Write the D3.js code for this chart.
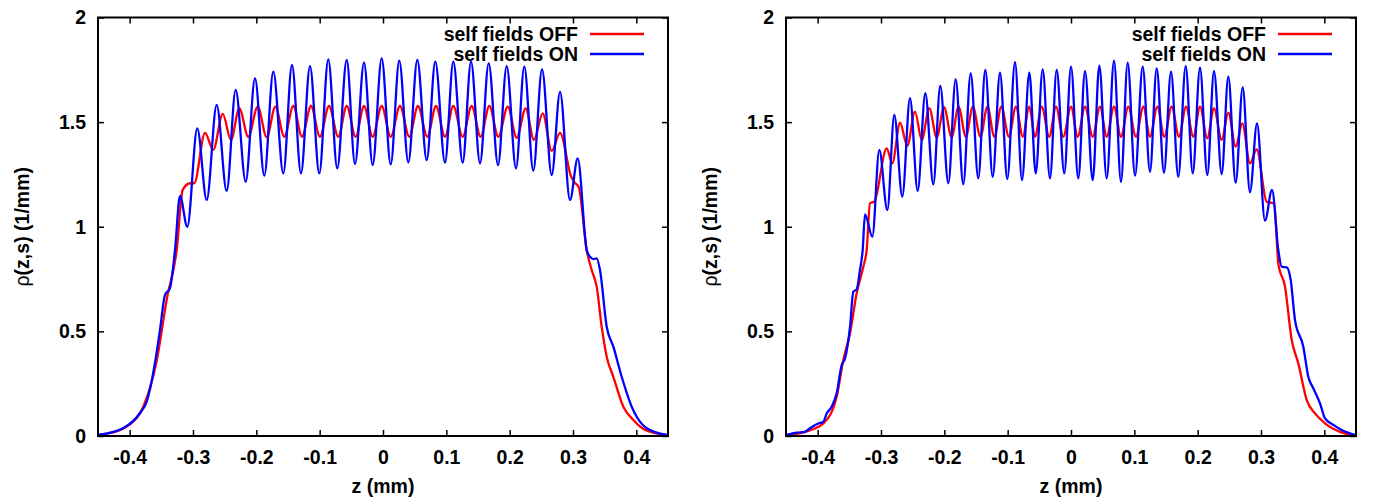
<!DOCTYPE html>
<html>
<head>
    <title>rho(z,s) self fields</title>
    <script src="https://cdn.jsdelivr.net/npm/d3@7"></script>
    <style>
        body { margin: 0; background: #fff; }
        svg { display: block; }
        text { font-family: 'Liberation Sans', Arial, Helvetica, sans-serif; font-weight: bold; fill: #000; }
    </style>
</head>
<body>
<div id="chart"></div>
<script>
//------------------------------------DATA--------------------------------
// left panel, self fields OFF (red)
var leftZOff = [-0.4495, -0.4105, -0.3995, -0.3785, -0.3573, -0.341, -0.3257, -0.3163, -0.3047, -0.298,
    -0.281, -0.268, -0.2531, -0.24, -0.2269, -0.2127, -0.1978, -0.1836, -0.17, -0.1558,
    -0.1416, -0.1279, -0.1137, -0.0995, -0.0853, -0.0706, -0.0573, -0.0431, -0.03, -0.0163,
    -0.0021, 0.0122, 0.0268, 0.0416, 0.0552, 0.07, 0.0837, 0.0979, 0.111, 0.1258,
    0.14, 0.1542, 0.1679, 0.1821, 0.197, 0.2111, 0.2253, 0.2384, 0.2521, 0.2664,
    0.2795, 0.297, 0.303, 0.309, 0.3216, 0.3295, 0.3374, 0.3453, 0.3532, 0.3637,
    0.3795, 0.3953, 0.4137, 0.4479];
var leftRhoOff = [0.005, 0.035, 0.055, 0.14, 0.36, 0.66, 0.889, 1.176, 1.208, 1.208,
    1.449, 1.367, 1.539, 1.415, 1.566, 1.43, 1.574, 1.428, 1.574, 1.43,
    1.577, 1.43, 1.577, 1.43, 1.577, 1.43, 1.577, 1.43, 1.577, 1.43,
    1.577, 1.43, 1.577, 1.43, 1.577, 1.43, 1.577, 1.43, 1.577, 1.43,
    1.577, 1.43, 1.577, 1.43, 1.574, 1.425, 1.566, 1.415, 1.542, 1.363,
    1.449, 1.24, 1.21, 1.19, 0.889, 0.793, 0.714, 0.522, 0.379, 0.283,
    0.14, 0.076, 0.029, 0.005];

// left panel, self fields ON (blue)
var leftZOn = [-0.4495, -0.4105, -0.3837, -0.3731, -0.36, -0.3521, -0.3442, -0.3363, -0.3284, -0.3205,
    -0.309, -0.2932, -0.2784, -0.2626, -0.2468, -0.2326, -0.2168, -0.2021, -0.1874, -0.1732,
    -0.1574, -0.1437, -0.1295, -0.1153, -0.1006, -0.0864, -0.0722, -0.0573, -0.0442, -0.03,
    -0.0163, -0.0021, 0.0122, 0.0257, 0.04, 0.0542, 0.069, 0.0826, 0.0979, 0.111,
    0.1258, 0.139, 0.1532, 0.1669, 0.1816, 0.1953, 0.21, 0.2231, 0.2373, 0.2511,
    0.2664, 0.2795, 0.2953, 0.3074, 0.3216, 0.3268, 0.3321, 0.3374, 0.3426, 0.3532,
    0.3637, 0.3769, 0.3927, 0.4006, 0.4164, 0.4479];
var leftRhoOn = [0.005, 0.037, 0.11, 0.164, 0.35, 0.507, 0.674, 0.707, 0.89, 1.147,
    1.0, 1.47, 1.128, 1.582, 1.171, 1.654, 1.215, 1.709, 1.244, 1.741,
    1.255, 1.773, 1.255, 1.768, 1.255, 1.80, 1.279, 1.797, 1.30, 1.784,
    1.295, 1.805, 1.298, 1.794, 1.308, 1.797, 1.319, 1.789, 1.306, 1.789,
    1.306, 1.789, 1.303, 1.781, 1.295, 1.768, 1.279, 1.765, 1.268, 1.752,
    1.247, 1.645, 1.128, 1.327, 0.889, 0.857, 0.845, 0.849, 0.793, 0.522,
    0.427, 0.283, 0.14, 0.092, 0.037, 0.005];

// right panel, self fields OFF (red)
var rightZOff = [-0.4489, -0.42, -0.3911, -0.37, -0.3595, -0.3489, -0.3384, -0.3279, -0.3226, -0.3174,
    -0.3106, -0.291, -0.2822, -0.27, -0.2585, -0.2463, -0.2357, -0.2237, -0.212, -0.2005,
    -0.1884, -0.1776, -0.166, -0.155, -0.143, -0.132, -0.121, -0.11, -0.098, -0.087,
    -0.076, -0.066, -0.0568, -0.0463, -0.0343, -0.0237, -0.0122, 0.0, 0.0106, 0.0221,
    0.0343, 0.0458, 0.0564, 0.0679, 0.0789, 0.0905, 0.1026, 0.1142, 0.1247, 0.1363,
    0.1473, 0.159, 0.1705, 0.1816, 0.1931, 0.2037, 0.2152, 0.2258, 0.2379, 0.2484,
    0.26, 0.2705, 0.2826, 0.2932, 0.3089, 0.321, 0.3273, 0.3379, 0.3485, 0.3589,
    0.3722, 0.3853, 0.4011, 0.4247, 0.4458];
var rightRhoOff = [0.005, 0.02, 0.06, 0.188, 0.363, 0.491, 0.682, 0.809, 0.889, 1.112,
    1.12, 1.375, 1.303, 1.497, 1.387, 1.55, 1.415, 1.566, 1.426, 1.571,
    1.428, 1.574, 1.43, 1.574, 1.43, 1.574, 1.43, 1.574, 1.43, 1.574,
    1.43, 1.574, 1.43, 1.574, 1.43, 1.574, 1.43, 1.574, 1.43, 1.574,
    1.43, 1.574, 1.43, 1.574, 1.43, 1.574, 1.43, 1.574, 1.43, 1.574,
    1.43, 1.574, 1.43, 1.574, 1.43, 1.574, 1.423, 1.566, 1.415, 1.545,
    1.383, 1.494, 1.303, 1.37, 1.12, 1.11, 0.825, 0.714, 0.459, 0.347,
    0.172, 0.108, 0.06, 0.02, 0.005];

// right panel, self fields ON (blue)
var rightZOn = [-0.4489, -0.4331, -0.42, -0.4121, -0.399, -0.3911, -0.3857, -0.3778, -0.37, -0.3621,
    -0.3568, -0.3489, -0.3437, -0.3384, -0.3332, -0.3289, -0.3253, -0.3137, -0.3027, -0.29,
    -0.279, -0.2664, -0.2542, -0.2421, -0.23, -0.2174, -0.2064, -0.1937, -0.1821, -0.1701,
    -0.1584, -0.1464, -0.1353, -0.1236, -0.1121, -0.1006, -0.0884, -0.0774, -0.0658, -0.0557,
    -0.0447, -0.0332, -0.0226, -0.0106, 0.0, 0.0115, 0.0221, 0.0343, 0.0447, 0.0564,
    0.0679, 0.0789, 0.0895, 0.1011, 0.1132, 0.1247, 0.1353, 0.1468, 0.1579, 0.1694,
    0.1811, 0.1922, 0.2037, 0.2152, 0.2258, 0.2379, 0.2484, 0.26, 0.2711, 0.2826,
    0.2937, 0.3063, 0.3174, 0.3273, 0.3327, 0.3406, 0.3469, 0.3537, 0.3668, 0.3747,
    0.3826, 0.3932, 0.4011, 0.4142, 0.4274, 0.4405, 0.4484];
var rightRhoOn = [0.005, 0.016, 0.02, 0.037, 0.06, 0.068, 0.108, 0.14, 0.204, 0.339,
    0.371, 0.522, 0.69, 0.701, 0.793, 0.889, 1.059, 0.952, 1.367, 1.08,
    1.534, 1.144, 1.614, 1.171, 1.638, 1.203, 1.673, 1.208, 1.704, 1.203,
    1.733, 1.231, 1.749, 1.239, 1.736, 1.228, 1.787, 1.223, 1.736, 1.255,
    1.752, 1.231, 1.749, 1.255, 1.765, 1.231, 1.744, 1.223, 1.77, 1.231,
    1.794, 1.215, 1.784, 1.244, 1.765, 1.263, 1.757, 1.258, 1.741, 1.239,
    1.768, 1.255, 1.76, 1.247, 1.744, 1.252, 1.717, 1.211, 1.666, 1.165,
    1.494, 1.029, 1.176, 0.889, 0.809, 0.806, 0.746, 0.554, 0.427, 0.283,
    0.228, 0.156, 0.084, 0.053, 0.029, 0.013, 0.005];

var zTicks = [-0.4, -0.3, -0.2, -0.1, 0, 0.1, 0.2, 0.3, 0.4];
var rhoTicks = [0, 0.5, 1, 1.5, 2];
var seriesNames = ["self fields OFF", "self fields ON"];
//----------------------------------FINISHED--------------------------------------


//------------------------------------MAKES THE BOX--------------------------
var seriesColors = ["#ff0000", "#0000ff"];
var fontSize = 19.5;
var plotTop = 17.5, plotBottom = 436;

var svg = d3.select("#chart").append("svg")
    .attr("width", 1374)
    .attr("height", 500);

var panels = [
    { left: 98, right: 668, labelX: 29, series: [[leftZOff, leftRhoOff], [leftZOn, leftRhoOn]] },
    { left: 786, right: 1356, labelX: 717, series: [[rightZOff, rightRhoOff], [rightZOn, rightRhoOn]] }
];

// gnuplot style minus sign instead of the unicode one
function zFormat(d) { return d === 0 ? "0" : String(d); }
function rhoFormat(d) { return String(d); }
//----------------------------------FINISHED--------------------------------------


panels.forEach(function (p, k) {
    var x = d3.scaleLinear().domain([-0.45, 0.45]).range([p.left, p.right]);
    var y = d3.scaleLinear().domain([0, 2]).range([plotBottom, plotTop]);
    var g = svg.append("g");

    //------------------------------------MAKES THE AXES--------------------------------
    function styleAxis(a) {
        a.attr("font-size", fontSize)
            .attr("font-family", null);
        a.select(".domain").remove();
        a.selectAll(".tick line").attr("stroke", "#000").attr("stroke-width", 1.5);
    }

    g.append("g")
        .attr("transform", "translate(0," + plotBottom + ")")
        .call(d3.axisBottom(x).tickValues(zTicks).tickFormat(zFormat)
            .tickSizeInner(-6).tickSizeOuter(0).tickPadding(14))
        .call(styleAxis);

    g.append("g")
        .attr("transform", "translate(0," + plotTop + ")")
        .call(d3.axisTop(x).tickValues(zTicks).tickFormat("")
            .tickSizeInner(-6).tickSizeOuter(0))
        .call(styleAxis);

    g.append("g")
        .attr("transform", "translate(" + p.left + ",0)")
        .call(d3.axisLeft(y).tickValues(rhoTicks).tickFormat(rhoFormat)
            .tickSizeInner(-6).tickSizeOuter(0).tickPadding(12))
        .call(styleAxis);

    g.append("g")
        .attr("transform", "translate(" + p.right + ",0)")
        .call(d3.axisRight(y).tickValues(rhoTicks).tickFormat("")
            .tickSizeInner(-6).tickSizeOuter(0))
        .call(styleAxis);

    // axis titles
    g.append("text")
        .attr("x", (p.left + p.right) / 2)
        .attr("y", 493)
        .attr("text-anchor", "middle")
        .attr("font-size", fontSize)
        .text("z (mm)");

    var yl = g.append("text")
        .attr("transform", "translate(" + p.labelX + "," + ((plotTop + plotBottom) / 2) + ") rotate(-90)")
        .attr("text-anchor", "middle")
        .attr("font-size", fontSize);
    yl.append("tspan").style("font-weight", "normal").text("\u03c1");
    yl.append("tspan").text("(z,s) (1/mm)");
    //----------------------------------FINISHED--------------------------------------


    //------------------------------------MAKES THE LINES--------------------------------
    var clipId = "clip" + k;
    g.append("clipPath").attr("id", clipId)
        .append("rect")
        .attr("x", p.left).attr("y", plotTop)
        .attr("width", p.right - p.left).attr("height", plotBottom - plotTop);

    var line = d3.line()
        .x(function (d) { return x(d[0]); })
        .y(function (d) { return y(d[1]); })
        .curve(d3.curveMonotoneX);

    p.series.forEach(function (s, i) {
        var pts = d3.zip(s[0], s[1]);
        g.append("path")
            .datum(pts)
            .attr("clip-path", "url(#" + clipId + ")")
            .attr("fill", "none")
            .attr("stroke", seriesColors[i])
            .attr("stroke-width", 2.3)
            .attr("stroke-linejoin", "round")
            .attr("d", line);
    });
    //----------------------------------FINISHED--------------------------------------


    //------------------------------------MAKES LEGEND + FRAME--------------------------------
    seriesNames.forEach(function (name, i) {
        var ly = 34 + 20 * i;
        g.append("text")
            .attr("x", p.right - 90)
            .attr("y", ly)
            .attr("dy", "0.35em")
            .attr("text-anchor", "end")
            .attr("font-size", fontSize)
            .text(name);
        g.append("line")
            .attr("x1", p.right - 78).attr("x2", p.right - 24)
            .attr("y1", ly).attr("y2", ly)
            .attr("stroke", seriesColors[i])
            .attr("stroke-width", 2.3);
    });

    g.append("rect")
        .attr("x", p.left).attr("y", plotTop)
        .attr("width", p.right - p.left).attr("height", plotBottom - plotTop)
        .attr("fill", "none")
        .attr("stroke", "#000")
        .attr("stroke-width", 2);
    //----------------------------------FINISHED--------------------------------------
});
</script>
</body>
</html>
